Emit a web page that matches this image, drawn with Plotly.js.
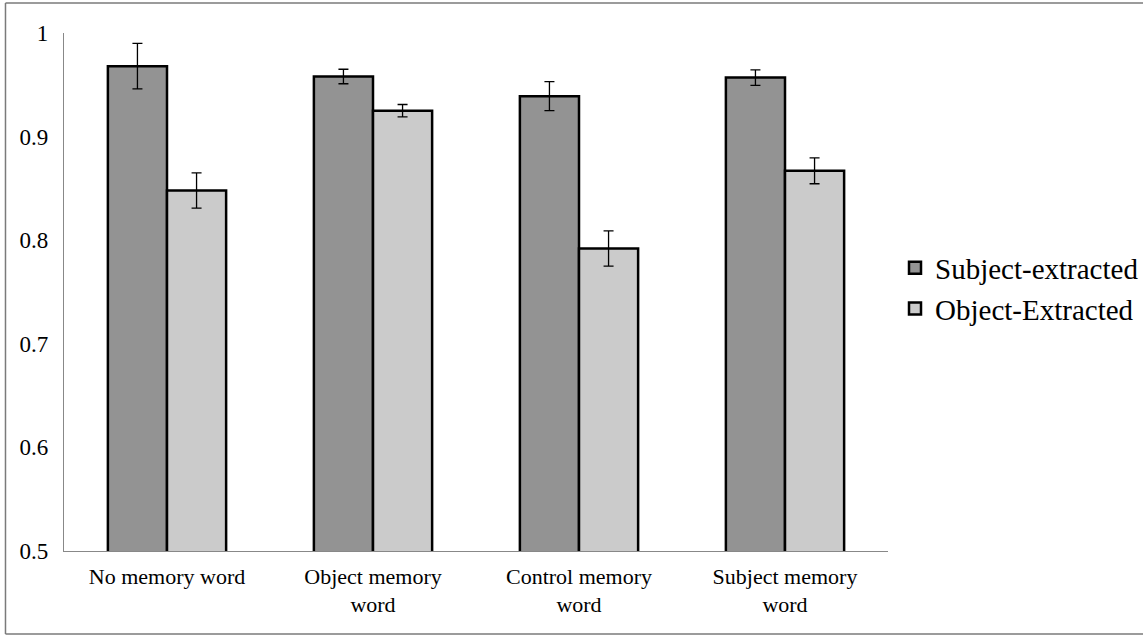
<!DOCTYPE html>
<html>
<head>
<meta charset="utf-8">
<script src="https://cdn.plot.ly/plotly-3.0.1.min.js"></script>
<style>html,body{margin:0;padding:0;background:#fff;}#chart{width:1143px;height:636px;}</style>
</head>
<body>
<div id="chart"></div>
<script>
var categories = ["No memory word", "Object memory<br>word", "Control memory<br>word", "Subject memory<br>word"];
var subjectExtracted = [0.968, 0.958, 0.939, 0.957];
var subjectErr = [0.022, 0.007, 0.014, 0.0075];
var objectExtracted = [0.848, 0.925, 0.792, 0.867];
var objectErr = [0.017, 0.006, 0.017, 0.0125];
var yTickVals = [0.5, 0.6, 0.7, 0.8, 0.9, 1];
var yTickText = ["0.5", "0.6", "0.7", "0.8", "0.9", "1"];

var font = "Liberation Serif";

var traces = [
  {
    type: "bar", name: "Subject-extracted", x: categories, y: subjectExtracted,
    marker: {color: "#939393", line: {color: "#000", width: 2.5}},
    error_y: {type: "data", array: subjectErr, visible: true, color: "#000", thickness: 1.3, width: 5}
  },
  {
    type: "bar", name: "Object-Extracted", x: categories, y: objectExtracted,
    marker: {color: "#cbcbcb", line: {color: "#000", width: 2.5}},
    error_y: {type: "data", array: objectErr, visible: true, color: "#000", thickness: 1.3, width: 5}
  }
];

var layout = {
  width: 1143, height: 636,
  margin: {l: 64, r: 255, t: 33, b: 85, pad: 0, autoexpand: false},
  paper_bgcolor: "#fff", plot_bgcolor: "#fff",
  barmode: "group", bargap: 0.426, bargroupgap: 0,
  font: {family: font, color: "#000", size: 22},
  showlegend: true,
  legend: {
    x: 1.0085, xanchor: "left", y: 0.507, yanchor: "middle",
    font: {family: font, size: 29, color: "#000"},
    bgcolor: "rgba(0,0,0,0)", tracegroupgap: 0
  },
  xaxis: {
    type: "category", showgrid: false, zeroline: false,
    showline: true, linecolor: "#888", linewidth: 1.2,
    ticks: "", tickfont: {family: font, size: 22, color: "#000"},
    ticklabelstandoff: 5, automargin: false
  },
  yaxis: {
    range: [0.5, 1], showgrid: false, zeroline: false,
    showline: true, linecolor: "#888", linewidth: 1.2,
    ticks: "", tickvals: yTickVals, ticktext: yTickText,
    tickfont: {family: font, size: 23, color: "#000"},
    ticklabelstandoff: 10, automargin: false
  },
  shapes: [
    {type: "line", xref: "paper", yref: "paper", x0: -0.071, x1: -0.071, y0: 1.058, y1: -0.160, line: {color: "#7a7a7a", width: 1.5}},
    {type: "line", xref: "paper", yref: "paper", x0: -0.071, x1: 1.32, y0: 1.058, y1: 1.058, line: {color: "#7a7a7a", width: 1.5}},
    {type: "line", xref: "paper", yref: "paper", x0: -0.071, x1: 1.32, y0: -0.160, y1: -0.160, line: {color: "#7a7a7a", width: 1.5}}
  ]
};

Plotly.newPlot("chart", traces, layout, {displayModeBar: false, staticPlot: true});
</script>
</body>
</html>
